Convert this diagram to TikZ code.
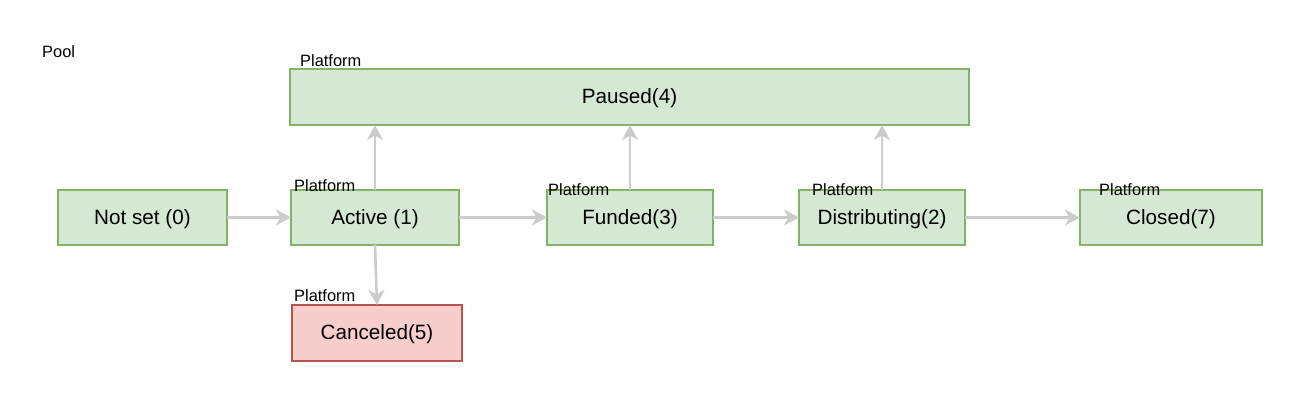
\documentclass[tikz,border=0pt]{standalone}
\usepackage{fontspec}
\setmainfont{Liberation Sans}
\usetikzlibrary{arrows.meta}
\definecolor{gfill}{HTML}{D5E8D4}
\definecolor{gdraw}{HTML}{82B366}
\definecolor{rfill}{HTML}{F8CECC}
\definecolor{rdraw}{HTML}{B85450}
\definecolor{arr}{HTML}{CCCCCC}
\tikzset{
  state/.style={draw=gdraw, fill=gfill, line width=1.6pt, minimum height=55pt, inner sep=0pt, outer sep=0pt, text height=15pt, text depth=1.4pt, font=\fontsize{20.7}{24}\selectfont},
  badstate/.style={state, draw=rdraw, fill=rfill},
  small/.style={anchor=base west, inner sep=0pt, font=\fontsize{16.4}{19}\selectfont},
  flow/.style={draw=arr, line width=2.6pt, -{Stealth[length=15pt, width=16pt, inset=4.5pt]}}
}
\begin{document}
\begin{tikzpicture}[x=1pt, y=-1pt]
\useasboundingbox (0,0) rectangle (1292,402);
\node[state, minimum width=169pt] (notset) at (142.5,217.5) {Not set (0)};
\node[state, minimum width=168pt] (active) at (375,217.5) {Active (1)};
\node[state, minimum width=166pt] (funded) at (630,217.5) {Funded(3)};
\node[state, minimum width=166pt] (distrib) at (882,217.5) {Distributing(2)};
\node[state, minimum width=182pt] (closed) at (1171,217.5) {Closed(7)};
\node[state, minimum width=679pt, minimum height=56pt] (paused) at (629.5,97) {Paused(4)};
\node[badstate, minimum width=170pt, minimum height=56pt] (canceled) at (377,333) {Canceled(5)};

\node[small] (pool) at (42,57) {Pool};
\node[small] (lp) at (300,66.5) {Platform};
\node[small] (la) at (294,191) {Platform};
\node[small] (lf) at (548,195) {Platform};
\node[small] (ld) at (812,195) {Platform};
\node[small] (lc) at (1099,195) {Platform};
\node[small] (lx) at (294,301) {Platform};

\draw[flow] (notset.east) -- (active.west);
\draw[flow] (active.east) -- (funded.west);
\draw[flow] (funded.east) -- (distrib.west);
\draw[flow] (distrib.east) -- (closed.west);
\draw[flow] (active.north) -- (active.north |- paused.south);
\draw[flow] (funded.north) -- (funded.north |- paused.south);
\draw[flow] (distrib.north) -- (distrib.north |- paused.south);
\draw[flow] (active.south) -- (canceled.north);
\end{tikzpicture}
\end{document}
